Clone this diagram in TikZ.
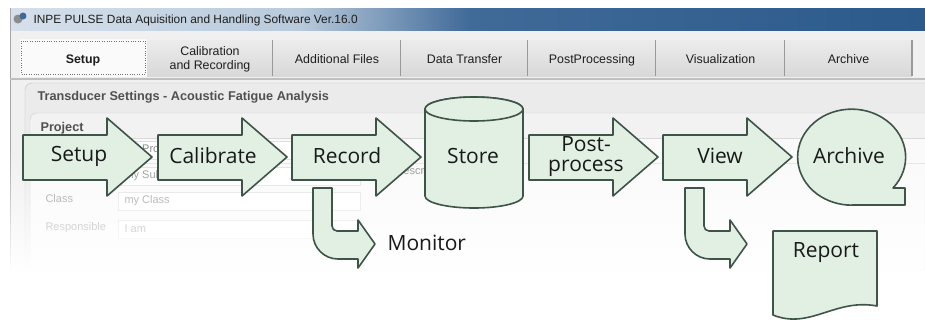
\documentclass[tikz,border=0pt]{standalone}
\usepackage{fontspec}
\setmainfont{Open Sans}
\newfontfamily\uifont{Liberation Sans}
\usepackage{tikz}
\usetikzlibrary{fadings}
\definecolor{flowfill}{RGB}{226,240,228}
\definecolor{flowline}{RGB}{62,84,72}
\definecolor{barA}{RGB}{214,224,235}
\definecolor{barB}{RGB}{184,202,220}
\definecolor{barC}{RGB}{64,106,152}
\definecolor{barD}{RGB}{43,90,139}
\definecolor{tabtop}{RGB}{236,236,236}
\definecolor{tabbot}{RGB}{216,216,216}
\definecolor{uitext}{RGB}{30,30,30}
\definecolor{paneltext}{RGB}{80,80,80}
\tikzfading[name=fadedown, top color=transparent!100, bottom color=transparent!0]

% block arrow, left end of body at #1
\newcommand{\blockarrow}[1]{%
  \draw[flow, shift={(#1,0)}] (0,135) -- (84,135) -- (84,118) -- (129,157) -- (84,196) -- (84,180) -- (0,180) -- cycle;}
% bent arrow going down and to the right
\newcommand{\bentarrow}[1]{%
  \draw[flow, shift={(#1,0)}] (313,188) -- (332,188) -- (332,226) arc[start angle=180, end angle=90, radius=5]
    -- (358,231) -- (358,220) -- (375,244) -- (358,268) -- (358,259) -- (338,259)
    arc[start angle=90, end angle=180, radius=25] -- cycle;}

\begin{document}
\begin{tikzpicture}[x=1pt, y=-1pt,
    flow/.style={draw=flowline, fill=flowfill, line width=1.6pt, line join=round},
    lbl/.style={font=\fontsize{21}{20}\selectfont, text=black!90},
    ui/.style={font=\uifont\fontsize{12.4}{13}\selectfont, text=uitext},
    uibold/.style={font=\uifont\bfseries\fontsize{12.7}{13}\selectfont, text=paneltext},
    faint/.style={font=\uifont\fontsize{11}{12}\selectfont, text=black!45}]
  \useasboundingbox (0,0) rectangle (925,322);
  \fill[white] (0,0) rectangle (925,322);

  % window behind the chart
  \fill[black!6] (10,30) rectangle (925,300);
  \shade[left color=barA, right color=barB] (10,8) rectangle (300,30);
  \shade[left color=barB, right color=barC] (300,8) rectangle (470,30);
  \shade[left color=barC, right color=barD] (470,8) rectangle (925,30);
  \fill[black!45] (18,19) circle (4.5);
  \fill[barC] (23,16) circle (3.5);
  \node[ui, anchor=base west, font=\uifont\fontsize{11.9}{13}\selectfont] (title) at (30,23)
    {INPE PULSE Data Aquisition and Handling Software Ver.16.0};
  \draw[black!35] (10,8) -- (10,300);

  % tabs
  \foreach \xa/\xb/\txt in {147/273/{}, 273/401/Additional Files,
      401/528/Data Transfer, 528/656/PostProcessing, 656/785/Visualization, 785/912/Archive}{
    \shade[top color=tabtop, bottom color=tabbot] (\xa,40) rectangle (\xb,76);
    \draw[black!40, line width=1.2pt] (\xb,40) -- (\xb,76);
    \node[ui, anchor=base] at ({(\xa+\xb)/2},63) {\txt};
  }
  \node[ui, align=center, font=\uifont\fontsize{12.4}{14}\selectfont] (tabcalib) at (210,59) {Calibration\\and Recording};
  \fill[black!2] (20,39) rectangle (147,77);
  \draw[black!55, dotted] (21,41) rectangle (145,74);
  \node[ui, anchor=base, font=\uifont\bfseries\fontsize{12.4}{13}\selectfont] (tabsetup) at (83,63) {Setup};
  \draw[black!25, line width=1.5pt] (10,79) -- (925,79);

  % settings panel
  \draw[black!25, fill=black!8, rounded corners=7] (25,320) -- (25,83) -- (940,83) -- (940,320);
  \node[uibold, anchor=base west] (panel) at (34,100)
    {Transducer Settings - Acoustic Fatigue Analysis};
  \draw[black!20, fill=black!5, rounded corners=7] (30,320) -- (30,113) -- (940,113) -- (940,320);
  \node[uibold, anchor=base west] (project) at (37,131) {Project};
  \fill[black!2] (31,138) rectangle (925,320);
  \draw[black!15] (31,138) -- (925,138);
  \draw[black!10] (31,163) -- (925,163);
  % fields
  \foreach \y/\txt in {150/my Project, 176/my Subject, 201/my Class, 229/I am}{
    \draw[black!12, fill=white] (118,{\y-9}) rectangle (360,{\y+9});
    \node[faint, anchor=west] at (121,\y) {\txt};
  }
  \node[faint, anchor=west] (lclass) at (42,199) {Class};
  \node[faint, anchor=west] (lresp) at (42,228) {Responsible};
  \node[faint, anchor=west] (ldescr) at (392,172) {Description};
  % fade the screenshot out
  \fill[white, path fading=fadedown] (0,150) rectangle (925,272);
  \fill[white] (0,271) rectangle (925,322);

  % chart
  \blockarrow{23}
  \blockarrow{158}
  \blockarrow{292}
  \blockarrow{529}
  \blockarrow{663}
  \draw[flow] (425,109) -- (425,196) arc[start angle=180, end angle=0, x radius=49, y radius=12]
    -- (523,109) arc[start angle=0, end angle=-180, x radius=49, y radius=12] -- cycle;
  \draw[flow] (474,109) ellipse[x radius=49, y radius=12];
  \draw[flow] (852,205) -- (905,205) -- (905,188) -- (893,188)
    arc[start angle=40, end angle=-270, x radius=54, y radius=48] -- cycle;
  \bentarrow{0}
  \bentarrow{372}
  \draw[flow] (773,231) -- (877,231) -- (877,306) .. controls (835,298) and (810,330) .. (773,315) -- cycle;

  % labels:
  \node[lbl] (setup) at (79,156) {Setup};
  \node[lbl] (calibrate) at (213,156) {Calibrate};
  \node[lbl] (record) at (347,156) {Record};
  \node[lbl] (store) at (473,156) {Store};
  \node[lbl, align=center] (postproc) at (586,157) {Post-\\process};
  \node[lbl] (view) at (720,156) {View};
  \node[lbl] (archive) at (849,156) {Archive};
  \node[lbl, anchor=west] (monitor) at (384,243) {Monitor};
  \node[lbl] (report) at (826,253) {Report};
\end{tikzpicture}
\end{document}
